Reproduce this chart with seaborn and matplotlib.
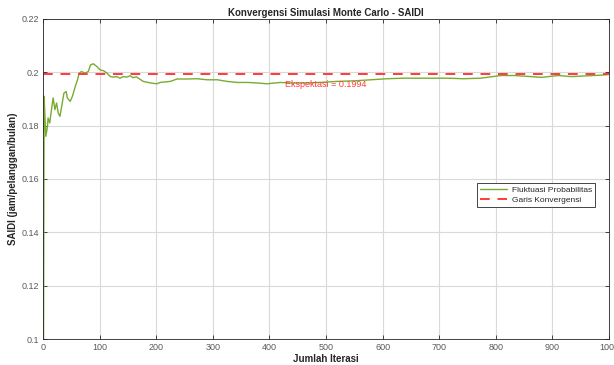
import matplotlib
matplotlib.use("Agg")
import matplotlib.pyplot as plt
import matplotlib.ticker as mticker
import seaborn as sns
import pandas as pd

iterasi = [1, 2, 3, 5, 8, 9, 12, 15, 18, 21, 24, 27, 30, 33, 37, 41, 43, 48, 52, 57,
           61, 64, 68, 74, 80, 84, 89, 95, 101, 107, 113, 119, 124, 130, 136, 142,
           148, 154, 159, 165, 177, 190, 201, 207, 225, 237, 255, 272, 290,
           308, 325, 343, 361, 379, 396, 419, 440, 460, 490, 520, 549, 579, 608, 637,
           667, 700, 715, 743, 773, 809, 832, 862, 880, 910, 933, 963, 991, 1000]
saidi = [0.1000, 0.1910, 0.1860, 0.1760, 0.1797, 0.1829, 0.1810, 0.1860, 0.1904, 0.1860,
         0.1885, 0.1847, 0.1835, 0.1872, 0.1922, 0.1928, 0.1904, 0.1891, 0.1910, 0.1947,
         0.1972, 0.1997, 0.2003, 0.1997, 0.2003, 0.2028, 0.2032, 0.2022, 0.2009, 0.2006,
         0.1997, 0.1984, 0.1982, 0.1984, 0.1978, 0.1984, 0.1982, 0.1987,
         0.1980, 0.1983, 0.1966, 0.1960, 0.1957, 0.1962, 0.1966, 0.1975,
         0.1975, 0.1976, 0.1972, 0.1972, 0.1966, 0.1962, 0.1962, 0.1960, 0.1957, 0.1962,
         0.1960, 0.1960, 0.1962, 0.1966, 0.1968, 0.1972, 0.1976, 0.1978, 0.1978, 0.1978,
         0.1978, 0.1976, 0.1978, 0.1988, 0.1988, 0.1984, 0.1981, 0.1988, 0.1984, 0.1987,
         0.1990, 0.1992]
ekspektasi = 0.1994

title = "Konvergensi Simulasi Monte Carlo - SAIDI"
xlabel = "Jumlah Iterasi"
ylabel = "SAIDI (jam/pelanggan/bulan)"
legend_labels = ["Fluktuasi Probabilitas", "Garis Konvergensi"]

sns.set_style("ticks")
plt.rcParams["font.family"] = ["Liberation Sans", "DejaVu Sans"]

fig = plt.figure(figsize=(6.14, 3.65), dpi=100)
ax = fig.add_axes([0.070, 0.0712, 0.922, 0.8768])

df = pd.DataFrame({"Iterasi": iterasi, "SAIDI": saidi})
sns.lineplot(data=df, x="Iterasi", y="SAIDI", ax=ax, color="#77AC30", linewidth=1.0,
             label=legend_labels[0])
ax.axhline(ekspektasi, color="#FF3B3B", linestyle=(0, (5, 4)), linewidth=1.4,
           label=legend_labels[1])
ax.text(500, 0.1956, f"Ekspektasi = {ekspektasi:.4f}", color="#FF3B3B", fontsize=6.5,
        ha="center", va="center")

ax.set_xlim(0, 1000)
ax.set_ylim(0.1, 0.22)
ax.set_xticks(range(0, 1001, 100))
ax.set_yticks([0.1, 0.12, 0.14, 0.16, 0.18, 0.2, 0.22])
ax.yaxis.set_major_formatter(mticker.FormatStrFormatter("%g"))
ax.grid(True, color="#D9D9D9", linewidth=0.8)
ax.set_axisbelow(True)
ax.tick_params(direction="in", labelsize=6.5, labelcolor="#5A5A5A", color="#262626",
               length=3, top=True, right=True, width=0.6, pad=3)
for s in ax.spines.values():
    s.set_color("#262626")
    s.set_linewidth(0.6)

ax.set_title(title, fontsize=7, fontweight="bold", pad=2.5)
ax.set_xlabel(xlabel, fontsize=7, fontweight="bold", labelpad=1)
ax.set_ylabel(ylabel, fontsize=7, fontweight="bold", labelpad=2.5)

leg = ax.legend(loc="center right", bbox_to_anchor=(0.982, 0.45), fontsize=6,
                frameon=True, fancybox=False, edgecolor="#262626", handlelength=3.2,
                borderpad=0.35, labelspacing=0.35, handletextpad=0.6, framealpha=1)
leg.get_frame().set_linewidth(0.6)

fig.savefig("out.png", dpi=100)
